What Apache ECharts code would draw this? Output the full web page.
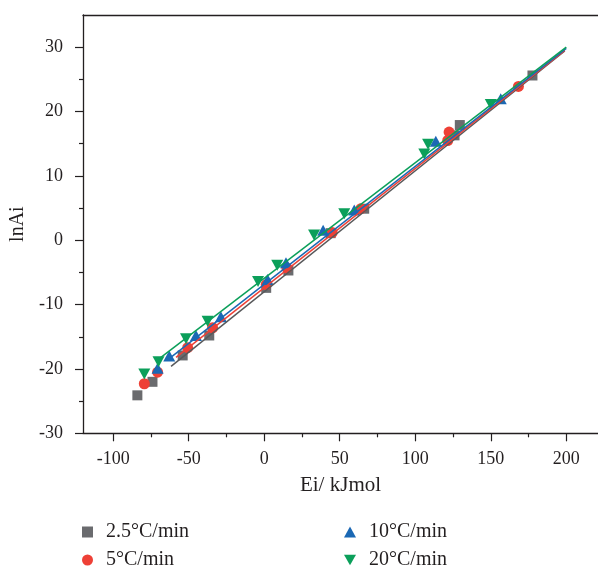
<!DOCTYPE html>
<html>
<head>
<meta charset="utf-8">
<script src="https://cdn.jsdelivr.net/npm/echarts@6/dist/echarts.min.js"></script>
<style>
  html, body { margin: 0; padding: 0; background: #ffffff; }
  #chart { width: 598px; height: 567px; }
</style>
</head>
<body>
<div id="chart"></div>
<script>
// Heating-rate series names
const rateNames = ['2.5°C/min', '5°C/min', '10°C/min', '20°C/min'];

// Measured points [Ei (kJ/mol), lnAi] for each heating rate
const points25 = [[-84, -24.1], [-74, -22.0], [-54, -17.9], [-36.4, -14.8], [1.3, -7.4], [16, -4.7],
                  [44, 1.1], [66.2, 4.9], [126, 16.3], [129.5, 17.9], [177.6, 25.6]];
const points5 = [[-79.4, -22.3], [-70.6, -20.5], [-50.7, -16.7], [-34.2, -13.6], [1.3, -6.9], [15, -4.3],
                 [45, 1.2], [64, 4.9], [121.5, 15.5], [122.4, 16.8], [168.3, 23.9]];
const points10 = [[-70.6, -19.9], [-62.9, -18.0], [-45.2, -14.8], [-28.7, -11.9], [2.2, -6.1], [14.4, -3.5],
                  [39, 1.55], [59.6, 4.7], [113.6, 15.4], [156.6, 22.0]];
const points20 = [[-79.4, -20.8], [-70, -18.9], [-51.8, -15.3], [-37.5, -12.6], [-4.1, -6.4], [8.6, -3.9],
                  [33, 0.8], [53, 4.1], [106, 13.4], [108.5, 14.9], [150, 21.1]];

// Linear fit segments (start and end) for each heating rate
const fit25 = [[-61.7, -19.6], [199, 29.4]];
const fit5 = [[-58.4, -18.2], [199, 29.5]];
const fit10 = [[-64, -18.6], [200, 29.8]];
const fit20 = [[-69.5, -18.4], [200, 30.0]];

// Axis ticks
const xMajorTicks = [-100, -50, 0, 50, 100, 150, 200];
const xMinorTicks = [-75, -25, 25, 75, 125, 175];
const yMajorTicks = [-30, -20, -10, 0, 10, 20, 30];
const yMinorTicks = [-25, -15, -5, 5, 15, 25];

const FONT = '"Liberation Serif", "Times New Roman", serif';
const INK = '#231f20';
const colors = ['#6a6b6e', '#ee4036', '#1b68b4', '#0b9f5a'];
const lineColors = ['#58595b', '#ee4036', '#1b68b4', '#0b9f5a'];
const downTri = 'path://M0,0L20,0L10,17.3Z';
const symbols = ['rect', 'circle', 'triangle', downTri];
const symbolSizes = [10, 11, [12, 11], [12, 11]];
const pointSets = [points25, points5, points10, points20];
const fitSets = [fit25, fit5, fit10, fit20];

const X_MIN = -120, X_MAX = 221, Y_MIN = -30, Y_MAX = 35;

const chart = echarts.init(document.getElementById('chart'), null, { renderer: 'canvas' });

const axisLine = { show: true, onZero: false, lineStyle: { color: INK, width: 1.3 } };
const hiddenLine = { show: false, onZero: false };

const scatterSeries = rateNames.map((name, i) => ({
  name: name,
  type: 'scatter',
  data: pointSets[i],
  symbol: symbols[i],
  symbolSize: symbolSizes[i],
  itemStyle: { color: colors[i], opacity: 1 },
  z: 2 + i * 0.1,
  silent: true
}));

const fitSeries = rateNames.map((name, i) => ({
  name: 'fit ' + name,
  type: 'line',
  data: fitSets[i],
  symbol: 'none',
  lineStyle: { color: lineColors[i], width: 1.5 },
  z: 5 + i * 0.1,
  silent: true
}));

// One legend block per entry, arranged as two columns of two rows
const legendIcons = ['rect', 'circle', 'triangle', downTri];
const legendLeft = [82, 82, 344, 344];
const legendTop = [522, 550, 522, 550];
const legends = rateNames.map((name, i) => ({
  left: legendLeft[i],
  top: legendTop[i],
  padding: 0,
  itemWidth: i < 2 ? 11 : 12,
  itemHeight: 11,
  selectedMode: false,
  data: [{ name: name, icon: legendIcons[i] }],
  textStyle: { fontFamily: FONT, fontSize: 20, color: INK, padding: [0, 0, 0, 8] }
}));

chart.setOption({
  animation: false,
  backgroundColor: '#ffffff',
  grid: { left: 83, right: 0, top: 15, bottom: 133.7, show: false },
  legend: legends,
  xAxis: [
    {
      type: 'value', position: 'bottom', min: X_MIN, max: X_MAX,
      name: 'Ei/ kJmol', nameLocation: 'middle', nameGap: 42,
      nameTextStyle: { fontFamily: FONT, fontSize: 21, color: INK },
      axisLine: axisLine,
      axisTick: { show: true, inside: false, length: 8, customValues: xMajorTicks, lineStyle: { color: INK, width: 1.2 } },
      axisLabel: { show: true, customValues: xMajorTicks, margin: 17, fontFamily: FONT, fontSize: 18, color: INK },
      splitLine: { show: false }
    },
    {
      type: 'value', position: 'bottom', min: X_MIN, max: X_MAX,
      axisLine: hiddenLine,
      axisTick: { show: true, inside: false, length: 4, customValues: xMinorTicks, lineStyle: { color: INK, width: 1.2 } },
      axisLabel: { show: false },
      splitLine: { show: false }
    },
    {
      type: 'value', position: 'top', min: X_MIN, max: X_MAX,
      axisLine: axisLine,
      axisTick: { show: false },
      axisLabel: { show: false },
      splitLine: { show: false }
    }
  ],
  yAxis: [
    {
      type: 'value', position: 'left', min: Y_MIN, max: Y_MAX,
      name: 'lnAi', nameLocation: 'middle', nameGap: 52,
      nameTextStyle: { fontFamily: FONT, fontSize: 20, color: INK },
      axisLine: axisLine,
      axisTick: { show: true, inside: false, length: 8, customValues: yMajorTicks, lineStyle: { color: INK, width: 1.2 } },
      axisLabel: { show: true, customValues: yMajorTicks, margin: 20, fontFamily: FONT, fontSize: 18, color: INK },
      splitLine: { show: false }
    },
    {
      type: 'value', position: 'left', min: Y_MIN, max: Y_MAX,
      axisLine: hiddenLine,
      axisTick: { show: true, inside: false, length: 4, customValues: yMinorTicks, lineStyle: { color: INK, width: 1.2 } },
      axisLabel: { show: false },
      splitLine: { show: false }
    }
  ],
  series: scatterSeries.concat(fitSeries)
});
</script>
</body>
</html>
